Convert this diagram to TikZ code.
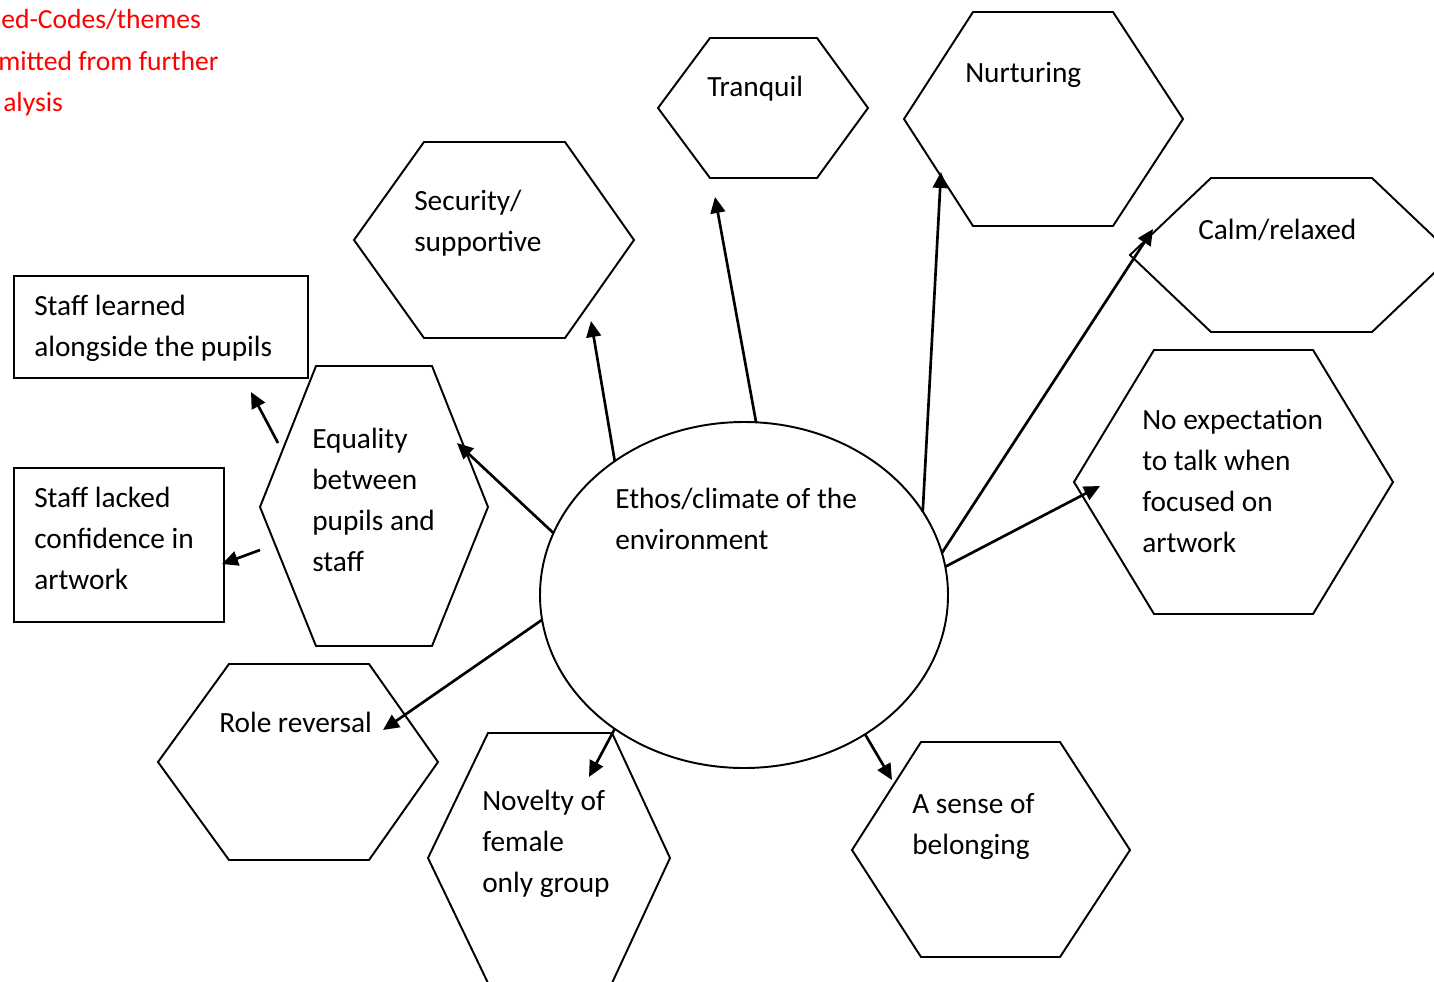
\documentclass[tikz,border=0pt]{standalone}
\usepackage{fontspec}
\setmainfont{Carlito}
\usetikzlibrary{shapes.geometric,arrows.meta,positioning}
\definecolor{omitted}{RGB}{255,0,0}
\tikzset{
  outline/.style={line width=1.45pt, line join=miter},
  label text/.style={anchor=base west, align=left, inner sep=0pt, font=\fontsize{22}{30.75}\selectfont},
  link/.style={line width=2pt, -{Triangle[length=12pt,width=11pt]}},
}

\begin{document}
\begin{tikzpicture}[x=0.75pt,y=0.75pt,yscale=-1,xscale=1]
\useasboundingbox (0,0) rectangle (1434,981);

% Text Node (omitted codes)
\node[label text, text=omitted, font=\fontsize{20.7}{30.75}\selectfont] (omit1) at (1,29) {ed-Codes/themes};
\node[label text, text=omitted, font=\fontsize{20.7}{30.75}\selectfont] (omit2) at (-2,70) {mitted from further};
\node[label text, text=omitted, font=\fontsize{20.7}{30.75}\selectfont] (omit3) at (3,112) {alysis};

%Shape: Hexagon [Tranquil]
\draw [outline] (658,108) -- (710,38) -- (817,38) -- (868,108) -- (817,178) -- (710,178) -- cycle ;
\node[label text] (tranquil) at (707,97) {Tranquil};
%Shape: Hexagon [Nurturing]
\draw [outline] (904,119) -- (973,12) -- (1113,12) -- (1183,119) -- (1113,226) -- (973,226) -- cycle ;
\node[label text] (nurturing) at (965,83) {Nurturing};
%Shape: Hexagon [Security]
\draw [outline] (354,240) -- (424,142) -- (565,142) -- (634,240) -- (565,338) -- (424,338) -- cycle ;
\node[label text] (security) at (414,251) {Security/\\supportive};
%Shape: Hexagon [Calm]
\draw [outline] (1130,255) -- (1211,178) -- (1372,178) -- (1453,255) -- (1372,332) -- (1211,332) -- cycle ;
\node[label text] (calm) at (1198,239) {Calm/relaxed};
%Shape: Hexagon [No expectation]
\draw [outline] (1074,482) -- (1154,350) -- (1313,350) -- (1393,482) -- (1313,614) -- (1154,614) -- cycle ;
\node[label text] (noexpect) at (1142,552) {No expectation\\to talk when\\focused on\\artwork};
%Shape: Hexagon [Equality]
\draw [outline] (260,507) -- (316,366) -- (432,366) -- (488,507) -- (432,646) -- (316,646) -- cycle ;
\node[label text] (equality) at (312,571) {Equality\\between\\pupils and\\staff};
%Shape: Hexagon [Role reversal]
\draw [outline] (158,762) -- (229,664) -- (369,664) -- (438,762) -- (369,860) -- (229,860) -- cycle ;
\node[label text] (role) at (219,732) {Role reversal};
%Shape: Hexagon [Novelty]
\draw [outline] (428,858) -- (488,733) -- (612,733) -- (670,858) -- (612,983) -- (488,983) -- cycle ;
\node[label text] (novelty) at (482,892) {Novelty of\\female\\only group};
%Shape: Hexagon [Belonging]
\draw [outline] (852,850) -- (921,742) -- (1060,742) -- (1130,850) -- (1060,957) -- (921,957) -- cycle ;
\node[label text] (belonging) at (912,854) {A sense of\\belonging};

%Shape: Rectangle [Staff learned]
\draw [outline] (14,276) rectangle (308,378) ;
\node[label text] (learned) at (34,356) {Staff learned\\alongside the pupils};
%Shape: Rectangle [Staff lacked]
\draw [outline] (14,468) rectangle (224,622) ;
\node[label text] (lacked) at (34,589) {Staff lacked\\confidence in\\artwork};

%Shape: Ellipse [Ethos]
\node[draw, outline, ellipse, inner sep=0pt, outer sep=0pt, minimum width=306pt, minimum height=259.5pt] (ethos) at (744,595) {};
\node[label text] (ethostext) at (615,549) {Ethos/climate of the\\environment};

% Arrow ends
\coordinate (tip learned) at (251,392);
\coordinate (from learned) at (278,443);
\coordinate (tip lacked) at (222,564);
\coordinate (from lacked) at (260,550);
\coordinate (tip equality) at (457,443);
\coordinate (tip security) at (591,321);
\coordinate (tip tranquil) at (715,197);
\coordinate (tip nurturing) at (941,172);
\coordinate (tip calm) at (1153,229);
\coordinate (tip noexpect) at (1100,486);
\coordinate (tip role) at (383,730);
\coordinate (tip novelty) at (589,777);
\coordinate (tip belonging) at (892,780);

%Straight Lines
\draw [link] (from learned) -- (tip learned) ;
\draw [link] (from lacked) -- (tip lacked) ;
\draw [link] (ethos.162.7) -- (tip equality) ;
\draw [link] (ethos.134.1) -- (tip security) ;
\draw [link] (ethos.86) -- (tip tranquil) ;
\draw [link] (ethos.25.5) -- (tip nurturing) ;
\draw [link] (ethos.12.3) -- (tip calm) ;
\draw [link] (ethos.8.7) -- (tip noexpect) ;
\draw [link] (ethos.187.6) -- (tip role) ;
\draw [link] (ethos.226.1) -- (tip novelty) ;
\draw [link] (ethos.311.9) -- (tip belonging) ;

\end{tikzpicture}
\end{document}
